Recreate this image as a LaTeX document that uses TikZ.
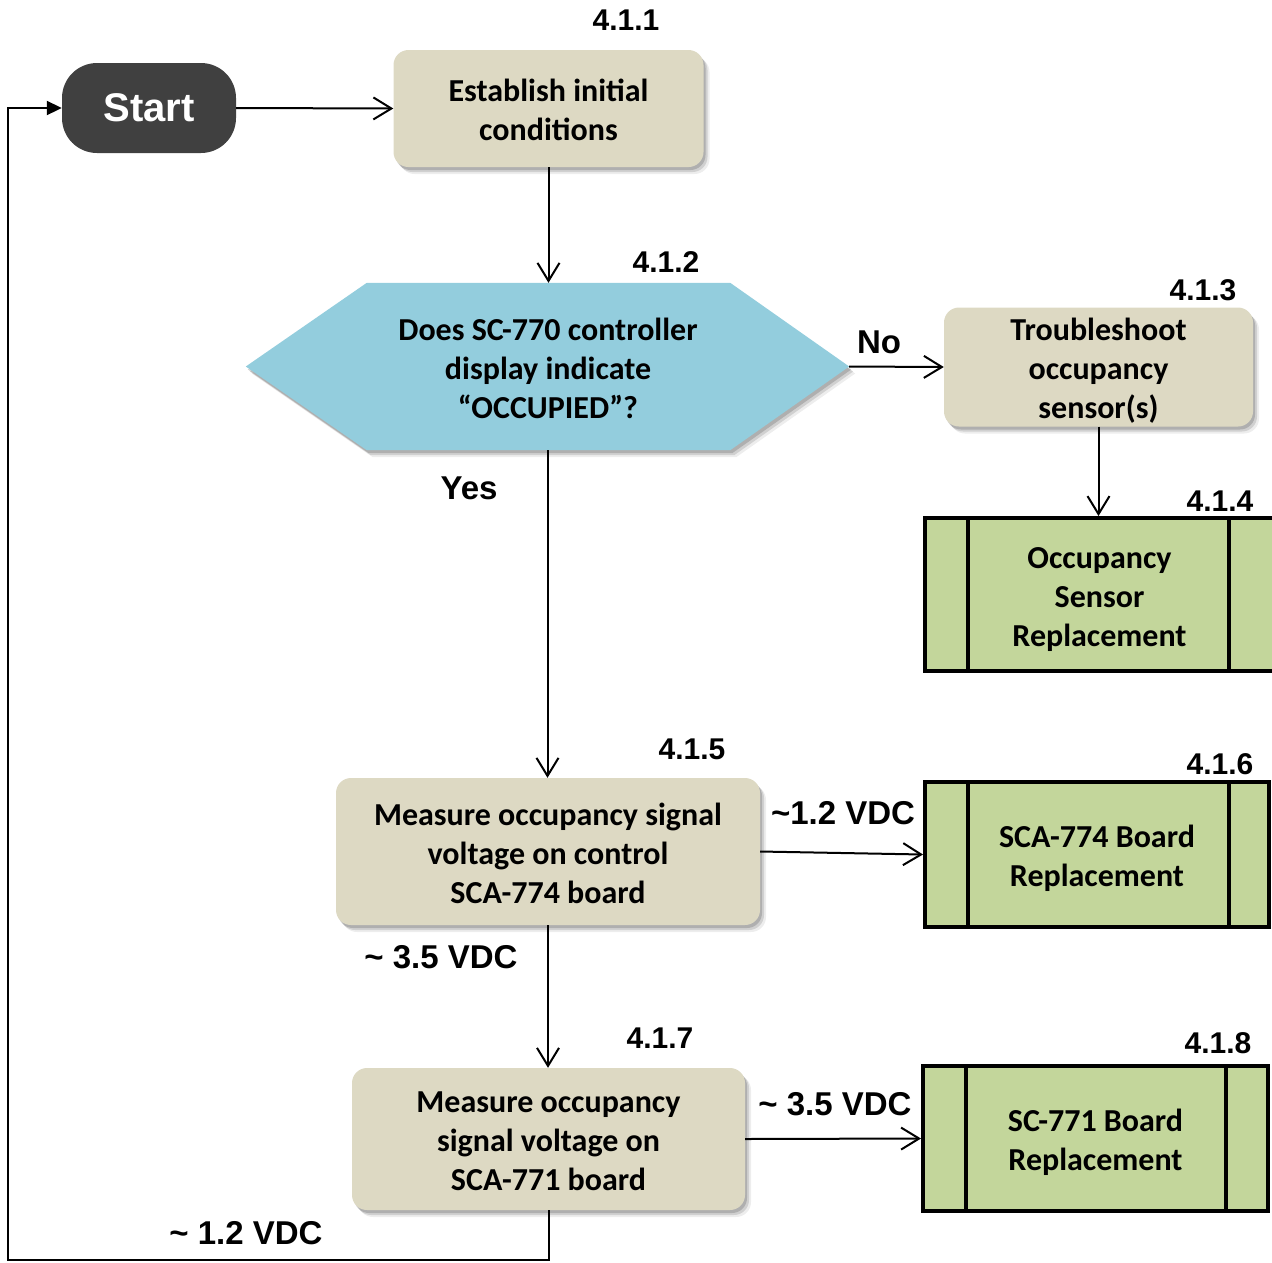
\documentclass[tikz,border=0pt]{standalone}
\usepackage{fontspec}
\setmainfont{Carlito}
\newfontfamily\labelfont{Liberation Sans}
\usetikzlibrary{arrows.meta,shadows,calc}
\definecolor{tanfill}{HTML}{DDD9C3}
\definecolor{skyfill}{HTML}{93CDDD}
\definecolor{leaf}{HTML}{C3D69B}
\definecolor{slate}{HTML}{404040}
% fixed first-line height, so every box sets its lines at the same offsets
\newcommand\toprowstrut{\rule{0pt}{33pt}}

\begin{document}
\begin{tikzpicture}[x=1pt,y=-1pt,
  softshadow/.style={
    drop shadow={shadow xshift=2pt,shadow yshift=-3pt,opacity=.16,fill=black},
    drop shadow={shadow xshift=4pt,shadow yshift=-5pt,opacity=.12,fill=black},
    drop shadow={shadow xshift=6pt,shadow yshift=-7pt,opacity=.07,fill=black}},
  boxtext/.style={align=center,inner sep=0pt,font=\fontsize{32}{39}\selectfont\bfseries,
    execute at end node={\rule[-8pt]{0pt}{8pt}}},
  proc/.style={boxtext,rounded corners=15pt,fill=tanfill,softshadow},
  subproc/.style={boxtext,draw=black,line width=4pt,fill=leaf},
  tag/.style={font=\labelfont\fontsize{30}{36}\selectfont\bfseries,anchor=base,inner sep=0pt},
  branch/.style={tag,font=\labelfont\fontsize{33}{40}\selectfont\bfseries},
  link/.style={line width=2pt,-{Straight Barb[length=18pt,width=22pt]}},
]
\useasboundingbox (0,0) rectangle (1272,1262);

% terminal
\node[fill=slate,rounded corners=35pt,minimum width=174pt,minimum height=90pt,
      inner sep=0pt,text=white,font=\labelfont\fontsize{40}{48}\selectfont\bfseries]
      (start) at (149,108) {Start};

% process steps
\node[proc,minimum width=310pt,minimum height=117pt] (init) at (548.5,108.5)
  {\toprowstrut Establish initial\\conditions};
\node[proc,minimum width=309pt,minimum height=118pt] (trouble) at (1098.5,367)
  {\toprowstrut Troubleshoot\\occupancy\\sensor(s)};
\node[proc,minimum width=424pt,minimum height=147pt] (m1) at (548,851.5)
  {\toprowstrut Measure occupancy signal\\voltage on control\\SCA-774 board};
\node[proc,minimum width=393pt,minimum height=142pt] (m2) at (548.5,1139)
  {\toprowstrut Measure occupancy\\signal voltage on\\SCA-771 board};

% decision (hexagon)
\node[minimum width=603pt,minimum height=167pt,inner sep=0pt] (ask) at (547.5,366.5) {};
\fill[skyfill,softshadow] (ask.west) -- ($(ask.north west)+(121,0)$)
  -- ($(ask.north east)+(-119,0)$) -- (ask.east)
  -- ($(ask.south east)+(-119,0)$) -- ($(ask.south west)+(121,0)$) -- cycle;
\node[boxtext] (asktext) at (548,366.5)
  {\toprowstrut Does SC-770 controller\\display indicate\\“OCCUPIED”?};

% predefined processes
\node[subproc,minimum width=349pt,minimum height=153pt] (g4) at (1099.5,594.5)
  {\toprowstrut Occupancy\\Sensor\\Replacement};
\draw[line width=4pt] ($(g4.north west)+(45,0)$) -- ($(g4.south west)+(45,0)$);
\draw[line width=4pt] ($(g4.north east)+(-47,0)$) -- ($(g4.south east)+(-47,0)$);

\node[subproc,minimum width=344pt,minimum height=145pt] (g6) at (1097,854.5)
  {\toprowstrut SCA-774 Board\\Replacement};
\draw[line width=4pt] ($(g6.north west)+(45,0)$) -- ($(g6.south west)+(45,0)$);
\draw[line width=4pt] ($(g6.north east)+(-42,0)$) -- ($(g6.south east)+(-42,0)$);

\node[subproc,minimum width=345pt,minimum height=145pt] (g8) at (1095.5,1138.5)
  {\toprowstrut SC-771 Board\\Replacement};
\draw[line width=4pt] ($(g8.north west)+(45,0)$) -- ($(g8.south west)+(45,0)$);
\draw[line width=4pt] ($(g8.north east)+(-44,0)$) -- ($(g8.south east)+(-44,0)$);

% connectors
\draw[link] (start.east) -- (init.west);
\draw[link] (init.south) -- (init.south |- ask.north);
\draw[link] (ask.east) -- (trouble.west);
\draw[link] (trouble.south) -- (trouble.south |- g4.north);
\draw[link] (ask.south) -- (ask.south |- m1.north);
\draw[link] (m1.east) -- (g6.west);
\draw[link] (m1.south) -- (m1.south |- m2.north);
\draw[link] (m2.east) -- (g8.west);
\coordinate (loop) at (8,1260);
\draw[line width=2pt,-{Triangle[length=15pt,width=14pt]}]
  (m2.south) |- (loop) |- (start.west);

% step numbers
\node[tag] (n1) at (626,30) {4.1.1};
\node[tag] (n2) at (666,272) {4.1.2};
\node[tag] (n3) at (1203,300) {4.1.3};
\node[tag] (n4) at (1220,511) {4.1.4};
\node[tag] (n5) at (692,759) {4.1.5};
\node[tag] (n6) at (1220,774) {4.1.6};
\node[tag] (n7) at (660,1048) {4.1.7};
\node[tag] (n8) at (1218,1053) {4.1.8};

% branch labels
\node[branch] (lno) at (879,353) {No};
\node[branch] (lyes) at (469,499) {Yes};
\node[branch] (la) at (843,824) {\char"7E 1.2 VDC};
\node[branch] (lb) at (441,968) {\char"7E{} 3.5 VDC};
\node[branch] (lc) at (835,1115) {\char"7E{} 3.5 VDC};
\node[branch] (ld) at (246,1244) {\char"7E{} 1.2 VDC};
\end{tikzpicture}
\end{document}
